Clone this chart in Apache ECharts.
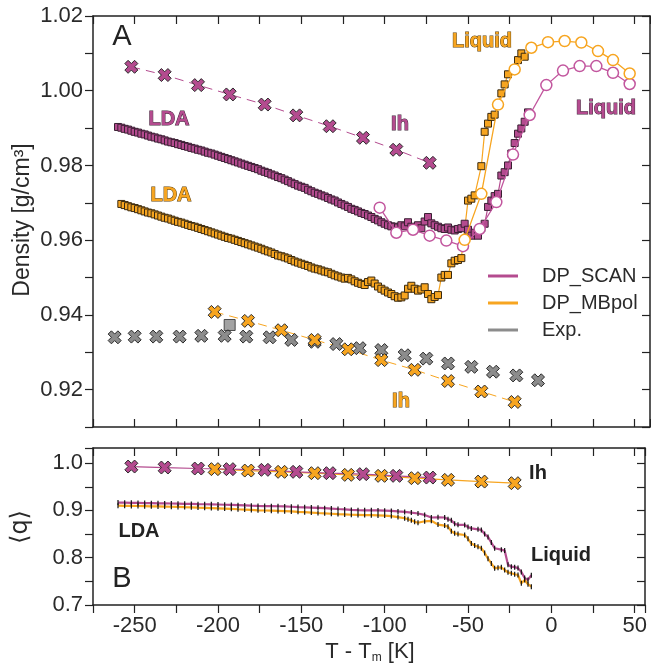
<!DOCTYPE html>
<html><head><meta charset="utf-8">
<script src="https://cdn.jsdelivr.net/npm/echarts@6/dist/echarts.min.js"></script>
<style>html,body{margin:0;padding:0;background:#fff}#c{width:651px;height:667px}</style>
</head><body><div id="c"></div>
<script>
// ---------- DATA ----------
// Panel A: density [g/cm3] vs T - Tm [K]
const magIhTop = [[-252,1.0064],[-232,1.0042],[-212,1.0015],[-193,0.9990],[-172,0.9963],[-153,0.9934],[-133,0.9905],[-113,0.9874],[-93,0.9842],[-73,0.9807]];
const orgIhTop = [[-202,0.9408],[-182,0.9384],[-162,0.9359],[-142,0.9333],[-122,0.9308],[-102,0.9279],[-82,0.9253],[-62,0.9223],[-42,0.9195],[-22,0.9167]];
const expIh = [[-262,0.9340],[-250,0.9342],[-237,0.9342],[-223,0.9342],[-210,0.9344],[-196,0.9344],[-183,0.9342],[-169,0.9340],[-156,0.9333],[-142,0.9328],[-129,0.9322],[-115,0.9311],[-102,0.9306],[-88,0.9292],[-75,0.9283],[-62,0.9270],[-48,0.9261],[-35,0.9248],[-21,0.9238],[-8,0.9225]];
const expLiq = [[-193,0.9373]];
const magLiq = [[-103,0.9687],[-93,0.9620],[-83,0.9628],[-73,0.9612],[-63,0.9599],[-53,0.9584],[-43,0.9630],[-33,0.9702],[-23,0.9829],[-13,0.9935],[-3,1.0015],[7,1.0054],[17,1.0066],[27,1.0066],[37,1.0048],[47,1.0018]];
const orgLiq = [[-52,0.9601],[-42,0.9724],[-32,0.9963],[-22,1.0057],[-12,1.0115],[-2,1.0130],[8,1.0133],[18,1.0129],[28,1.0106],[37,1.0082],[47,1.0046]];
const magLda = [[-260,.9903],[-258,.9901],[-256,.9898],[-254,.9896],[-252,.9893],[-250,.9890],[-248,.9888],[-246,.9885],[-244,.9883],[-242,.9880],[-240,.9877],[-238,.9875],[-236,.9872],[-234,.9870],[-232,.9867],[-230,.9864],[-228,.9862],[-226,.9860],[-224,.9857],[-222,.9855],[-220,.9852],[-218,.9850],[-216,.9847],[-214,.9845],[-212,.9842],[-210,.9840],[-208,.9837],[-206,.9834],[-204,.9832],[-202,.9829],[-200,.9826],[-198,.9823],[-196,.9820],[-194,.9817],[-192,.9814],[-190,.9811],[-188,.9808],[-186,.9805],[-184,.9802],[-182,.9799],[-180,.9796],[-178,.9793],[-176,.9790],[-174,.9786],[-172,.9783],[-170,.9780],[-168,.9776],[-166,.9773],[-164,.9769],[-162,.9766],[-160,.9762],[-158,.9758],[-156,.9754],[-154,.9750],[-152,.9746],[-150,.9743],[-148,.9740],[-146,.9735],[-144,.9731],[-142,.9727],[-140,.9724],[-138,.9720],[-136,.9717],[-134,.9713],[-132,.9709],[-130,.9706],[-128,.9701],[-126,.9697],[-124,.9693],[-122,.9689],[-120,.9684],[-118,.9681],[-116,.9677],[-114,.9673],[-112,.9670],[-110,.9666],[-108,.9662],[-106,.9657],[-104,.9653],[-102,.9648],[-100,.9644],[-98,.9640],[-96,.9637],[-94,.9636],[-92,.9634],[-90,.9640],[-88,.9637],[-86,.9648],[-84,.9636],[-82,.9634],[-80,.9640],[-78,.9632],[-76,.9650],[-74,.9662],[-72,.9645],[-70,.9640],[-68,.9636],[-66,.9632],[-64,.9630],[-62,.9634],[-60,.9628],[-58,.9626],[-56,.9630],[-54,.9632],[-52,.9644],[-50,.9628],[-48,.9612],[-46,.9620],[-44,.9612],[-42,.9632],[-40,.9644],[-38,.9689],[-36,.9706],[-34,.9718],[-32,.9724],[-30,.9773],[-28,.9782],[-26,.9800],[-24,.9832],[-22,.9860],[-20,.9885],[-18,.9899],[-16,.9917],[-14,.9942]];
const orgLda = [[-258,.9697],[-256,.9694],[-254,.9691],[-252,.9688],[-250,.9686],[-248,.9683],[-246,.9680],[-244,.9677],[-242,.9674],[-240,.9672],[-238,.9669],[-236,.9666],[-234,.9663],[-232,.9660],[-230,.9658],[-228,.9655],[-226,.9652],[-224,.9649],[-222,.9647],[-220,.9644],[-218,.9641],[-216,.9638],[-214,.9636],[-212,.9633],[-210,.9630],[-208,.9627],[-206,.9624],[-204,.9621],[-202,.9618],[-200,.9615],[-198,.9612],[-196,.9609],[-194,.9606],[-192,.9604],[-190,.9601],[-188,.9598],[-186,.9595],[-184,.9592],[-182,.9589],[-180,.9586],[-178,.9583],[-176,.9580],[-174,.9577],[-172,.9573],[-170,.9570],[-168,.9567],[-166,.9563],[-164,.9559],[-162,.9557],[-160,.9554],[-158,.9551],[-156,.9547],[-154,.9543],[-152,.9540],[-150,.9537],[-148,.9534],[-146,.9531],[-144,.9527],[-142,.9524],[-140,.9522],[-138,.9519],[-136,.9516],[-134,.9514],[-132,.9510],[-130,.9506],[-128,.9503],[-126,.9500],[-124,.9497],[-122,.9499],[-120,.9495],[-118,.9490],[-116,.9486],[-114,.9483],[-112,.9480],[-110,.9488],[-108,.9492],[-106,.9484],[-104,.9476],[-102,.9470],[-100,.9465],[-98,.9460],[-96,.9456],[-94,.9450],[-92,.9446],[-90,.9447],[-88,.9452],[-86,.9470],[-84,.9478],[-82,.9470],[-80,.9465],[-78,.9468],[-76,.9474],[-74,.9456],[-72,.9442],[-70,.9448],[-68,.9453],[-66,.9500],[-64,.9507],[-62,.9507],[-60,.9538],[-58,.9545],[-56,.9547],[-54,.9552],[-50,.9706],[-48,.9711],[-46,.9720],[-42,.9798],[-40,.9890],[-38,.9912],[-36,.9930],[-34,.9936],[-30,.9993],[-28,1.0017],[-26,1.0044],[-20,1.0082],[-18,1.0100],[-16,1.0091]];

// Panel B: <q> vs T - Tm [K]
const magIhQ = [[-252,0.9928],[-232,0.9907],[-212,0.9886],[-193,0.9873],[-172,0.9858],[-153,0.9816],[-133,0.9788],[-113,0.9767],[-93,0.9731],[-73,0.9695]];
const orgIhQ = [[-202,0.9873],[-182,0.9843],[-162,0.9816],[-142,0.9788],[-122,0.9752],[-102,0.9731],[-82,0.9682],[-62,0.9646],[-42,0.9610],[-22,0.9576]];
const magQ = [[-260,.9165],[-256,.9163],[-252,.9160],[-248,.9158],[-244,.9155],[-240,.9153],[-236,.9150],[-232,.9148],[-228,.9146],[-224,.9143],[-220,.9140],[-216,.9137],[-212,.9133],[-208,.9130],[-204,.9128],[-200,.9125],[-196,.9120],[-192,.9116],[-188,.9112],[-184,.9106],[-180,.9100],[-176,.9095],[-172,.9092],[-168,.9090],[-164,.9088],[-160,.9084],[-156,.9078],[-152,.9070],[-148,.9065],[-144,.9060],[-140,.9054],[-136,.9048],[-132,.9040],[-128,.9030],[-124,.9022],[-120,.9010],[-116,.9005],[-112,.9003],[-108,.9004],[-104,.9000],[-100,.8995],[-96,.8990],[-92,.8978],[-88,.8968],[-84,.8955],[-80,.8935],[-76,.8905],[-72,.8850],[-68,.8855],[-64,.8850],[-62,.8815],[-60,.8790],[-58,.8720],[-56,.8695],[-52,.8693],[-50,.8650],[-48,.8620],[-44,.8600],[-42,.8588],[-40,.8500],[-38,.8440],[-36,.8320],[-34,.8200],[-30,.8170],[-28,.8150],[-26,.7850],[-24,.7810],[-22,.7800],[-20,.7780],[-18,.7700],[-16,.7570],[-14,.7530],[-12,.7630]];
const orgQ = [[-260,.9100],[-256,.9098],[-252,.9096],[-248,.9093],[-244,.9090],[-240,.9087],[-236,.9085],[-232,.9082],[-228,.9078],[-224,.9075],[-220,.9070],[-216,.9066],[-212,.9060],[-208,.9055],[-204,.9050],[-200,.9045],[-196,.9040],[-192,.9033],[-188,.9025],[-184,.9018],[-180,.9010],[-176,.9002],[-172,.8998],[-168,.8995],[-164,.8990],[-160,.8985],[-156,.8978],[-152,.8970],[-148,.8963],[-144,.8955],[-140,.8945],[-136,.8938],[-132,.8930],[-128,.8922],[-124,.8915],[-120,.8908],[-116,.8905],[-112,.8902],[-108,.8900],[-104,.8895],[-100,.8890],[-96,.8880],[-92,.8860],[-88,.8835],[-86,.8813],[-84,.8790],[-82,.8760],[-80,.8740],[-76,.8770],[-72,.8780],[-68,.8700],[-64,.8680],[-62,.8657],[-60,.8560],[-58,.8517],[-56,.8500],[-52,.8480],[-50,.8400],[-48,.8300],[-46,.8260],[-44,.8233],[-42,.8200],[-40,.8100],[-38,.7980],[-36,.7880],[-34,.7775],[-32,.7790],[-30,.7797],[-28,.7740],[-26,.7690],[-24,.7670],[-22,.7650],[-20,.7634],[-18,.7458],[-16,.7528],[-14,.7440],[-12,.7386]];

const legendNames = ['DP_SCAN','DP_MBpol','Exp.'];

// ---------- STYLE ----------
const MAG='#B44B8F', ORG='#F7A520', GRY='#8C8C8C', EDGE='#2a2a2a', AX='#222';
const FONT='Liberation Sans, Arial, sans-serif';
const XSYM='path://M0,2.5L2.5,0L5,2.5L7.5,0L10,2.5L7.5,5L10,7.5L7.5,10L5,7.5L2.5,10L0,7.5L2.5,5Z';

const chart = echarts.init(document.getElementById('c'));
const axLine = {show:true, onZero:false, lineStyle:{color:AX, width:1.5}};
const tickIn = {show:true, inside:true, length:8, lineStyle:{color:AX, width:1.2}};
const tickOut = {show:true, inside:false, length:8, lineStyle:{color:AX, width:1.2}};
const lbl = {color:'#2a2a2a', fontSize:22, fontFamily:FONT};

function xAxis(grid, pos, max, labels, inside){
  return {type:'value', gridIndex:grid, position:pos, min:-275, max:max, interval:25,
    axisLine:axLine, axisTick: inside?tickIn:tickOut, splitLine:{show:false},
    axisLabel: labels ? Object.assign({show:true, margin:10, formatter:v=>{const r=Math.round(v);return (Math.abs(v-r)<1e-6 && r%50===0)?String(r):'';}}, lbl) : {show:false}};
}
function yAxis(grid, pos, min, max, itv, labels, inside, fmt){
  return {type:'value', gridIndex:grid, position:pos, min:min, max:max, interval:itv,
    axisLine:axLine, axisTick: inside?tickIn:tickOut, splitLine:{show:false},
    axisLabel: labels ? Object.assign({show:true, margin:10, formatter:fmt}, lbl) : {show:false}};
}
const fmtTop = v=>{const k=Math.round(v*100);return (Math.abs(v*100-k)<1e-4 && k%2===0)?(k/100).toFixed(2):'';};
const fmtBot = v=>{const k=Math.round(v*100);return (Math.abs(v*100-k)<1e-4 && k%10===0)?(k/100).toFixed(1):'';};

function crosses(data, color, xi, yi, dashed, solidLine){
  return {type:'line', xAxisIndex:xi, yAxisIndex:yi, data:data, symbol:XSYM, symbolSize:13,
    itemStyle:{color:color, borderColor:EDGE, borderWidth:1},
    lineStyle: dashed ? {color:color, width:1, type:[9,6]} : (solidLine ? {color:color, width:1.2} : {opacity:0}),
    silent:true, z:3};
}
function squares(data, color, edge){
  return {type:'line', xAxisIndex:0, yAxisIndex:0, data:data, symbol:'rect', symbolSize:7,
    itemStyle:{color:color, borderColor:edge, borderWidth:1},
    lineStyle:{color:color, width:1.2}, z:4};
}
function circles(data, color){
  return {type:'line', xAxisIndex:0, yAxisIndex:0, data:data, symbol:'circle', symbolSize:11,
    itemStyle:{color:'#fff', borderColor:color, borderWidth:1.5},
    lineStyle:{color:color, width:1.3}, z:5};
}
function qLine(data, color){
  return {type:'line', xAxisIndex:2, yAxisIndex:2, data:data, symbol:'rect', symbolSize:[1.2,5],
    itemStyle:{color:'#111'}, lineStyle:{color:color, width:2.2}, z:3};
}

const series = [
  crosses(magIhTop, MAG, 0, 0, true),
  crosses(expIh, GRY, 0, 0, false, false),
  {type:'scatter', xAxisIndex:0, yAxisIndex:0, data:expLiq, symbol:'rect', symbolSize:11,
   itemStyle:{color:GRY, borderColor:EDGE, borderWidth:1}, z:3},
  crosses(orgIhTop, ORG, 0, 0, true),
  squares(magLda, MAG, '#3a1f33'),
  squares(orgLda, ORG, '#3a2a10'),
  circles(magLiq, '#C2569E'),
  circles(orgLiq, ORG),
  qLine(magQ, MAG),
  qLine(orgQ, ORG),
  crosses(orgIhQ, ORG, 2, 2, false, true),
  crosses(magIhQ, MAG, 2, 2, false, true),
  {name:legendNames[0], type:'line', xAxisIndex:0, yAxisIndex:0, data:[], itemStyle:{color:MAG}, lineStyle:{color:MAG}},
  {name:legendNames[1], type:'line', xAxisIndex:0, yAxisIndex:0, data:[], itemStyle:{color:ORG}, lineStyle:{color:ORG}},
  {name:legendNames[2], type:'line', xAxisIndex:0, yAxisIndex:0, data:[], itemStyle:{color:GRY}, lineStyle:{color:GRY}}
];

function label(text, x, y, color, stroke, size, bold){
  return {type:'text', x:x, y:y, z:20, style:{text:text, fill:color, fontSize:size, fontFamily:FONT,
    fontWeight: bold?'bold':'normal', align:'center', verticalAlign:'middle',
    stroke: stroke||null, lineWidth: stroke?1:0}};
}

chart.setOption({
  animation:false,
  backgroundColor:'#fff',
  grid:[{left:93, top:16, width:557, height:411},{left:93, top:448, width:552, height:157}],
  xAxis:[xAxis(0,'bottom',59.2,false,true), xAxis(0,'top',59.2,false,true), xAxis(1,'bottom',56.2,true,false), xAxis(1,'top',56.2,false,true)],
  yAxis:[yAxis(0,'left',0.91,1.02,0.01,true,false,fmtTop), yAxis(0,'right',0.91,1.02,0.01,false,true),
         yAxis(1,'left',0.70,1.032,0.05,true,false,fmtBot), yAxis(1,'right',0.70,1.032,0.05,false,true)],
  legend:{data:legendNames.map(n=>({name:n, icon:'rect'})), orient:'vertical', left:483, top:260,
    itemWidth:30, itemHeight:3, itemGap:5,
    textStyle:{fontSize:20, color:'#2a2a2a', fontFamily:FONT, lineHeight:22, padding:[0,0,0,19]},
    selectedMode:false},
  series:series,
  graphic:[
    label('A', 122, 37, '#222', null, 29, false),
    label('B', 122, 579, '#222', null, 29, false),
    label('LDA', 169, 119, MAG, '#3a1f33', 20, true),
    label('LDA', 171, 195, ORG, '#5a3d0a', 20, true),
    label('Ih', 400, 124, MAG, '#3a1f33', 20, true),
    label('Liquid', 482, 41, ORG, '#5a3d0a', 20, true),
    label('Liquid', 606, 108, MAG, '#3a1f33', 20, true),
    label('Ih', 401, 401, ORG, '#5a3d0a', 20, true),
    label('LDA', 139, 531, '#222', null, 20, true),
    label('Ih', 538, 473, '#222', null, 20, true),
    label('Liquid', 561, 555, '#222', null, 20, true),
    {type:'text', x:23, y:220, rotation:Math.PI/2, z:20, style:{text:'Density [g/cm³]', fill:'#2a2a2a', fontSize:23, fontFamily:FONT, align:'center', verticalAlign:'middle'}},
    {type:'text', x:21, y:527, rotation:Math.PI/2, z:20, style:{text:'⟨q⟩', fill:'#2a2a2a', fontSize:24, fontFamily:'DejaVu Sans, '+FONT, align:'center', verticalAlign:'middle'}},
    {type:'text', x:370, y:652, z:20, style:{text:'{a|T - T}{s|m}{a| [K]}', align:'center', verticalAlign:'middle',
      rich:{a:{fontSize:22, fill:'#2a2a2a', fontFamily:FONT}, s:{fontSize:12, fill:'#2a2a2a', fontFamily:FONT, padding:[12,0,0,0]}}}}
  ]
});
</script></body></html>
